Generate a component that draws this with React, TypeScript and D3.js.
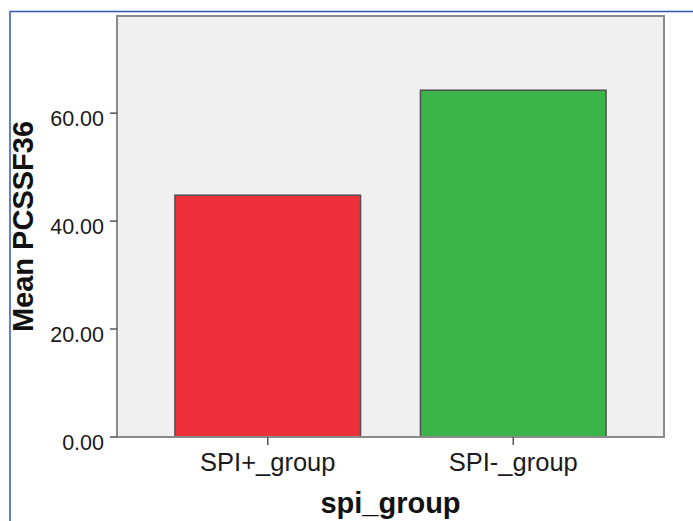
import React from "react";
import * as d3 from "d3";

const categories = ["SPI+_group", "SPI-_group"];
const values = [44.8, 64.25];
const barColors = ["#EE303B", "#3BB54A"];
const yTicks = [0, 20, 40, 60];
const yMax = 78;
const xTitle = "spi_group";
const yTitle = "Mean PCSSF36";

const W = 693;
const H = 521;
const plot = { left: 117, right: 664, top: 16, bottom: 437 };

export default function App() {
  const x = d3
    .scaleBand<string>()
    .domain(categories)
    .range([plot.left, plot.right])
    .paddingInner(0.244)
    .paddingOuter(0.236);
  const y = d3.scaleLinear().domain([0, yMax]).range([plot.bottom, plot.top]);
  const fmt = d3.format(".2f");
  const font = "'Liberation Sans', Arial, Helvetica, sans-serif";

  return (
    <svg
      width={W}
      height={H}
      style={{ position: "absolute", left: 0, top: 0, background: "#ffffff" }}
      fontFamily={font}
    >
      {/* blue frame */}
      <line x1={10} y1={11.5} x2={W} y2={11.5} stroke="#2F57B8" strokeWidth={1.5} />
      <line x1={10} y1={11} x2={10} y2={H} stroke="#2F57B8" strokeWidth={1.5} />

      {/* plot background */}
      <rect
        x={plot.left}
        y={plot.top}
        width={plot.right - plot.left}
        height={plot.bottom - plot.top}
        fill="#F0F0F1"
      />

      {/* bars */}
      {categories.map((c, i) => (
        <rect
          key={c}
          x={x(c)!}
          y={y(values[i])}
          width={x.bandwidth()}
          height={y(0) - y(values[i])}
          fill={barColors[i]}
          stroke="#505050"
          strokeWidth={1.5}
        />
      ))}

      {/* plot frame */}
      <rect
        x={plot.left}
        y={plot.top}
        width={plot.right - plot.left}
        height={plot.bottom - plot.top}
        fill="none"
        stroke="#8A8A8A"
        strokeWidth={2}
      />

      {/* y ticks */}
      {yTicks.map((t) => (
        <g key={t}>
          <line x1={plot.left - 7} x2={plot.left} y1={y(t)} y2={y(t)} stroke="#555" strokeWidth={1.5} />
          <text x={104} y={y(t) + 12.5} textAnchor="end" fontSize={21.5} fill="#1a1a1a">
            {fmt(t)}
          </text>
        </g>
      ))}

      {/* x ticks */}
      {categories.map((c) => {
        const cx = x(c)! + x.bandwidth() / 2;
        return (
          <g key={c}>
            <line x1={cx} x2={cx} y1={plot.bottom} y2={plot.bottom + 8} stroke="#555" strokeWidth={1.5} />
            <text x={cx} y={471} textAnchor="middle" fontSize={25.5} fill="#1a1a1a">
              {c}
            </text>
          </g>
        );
      })}

      {/* axis titles */}
      <text
        x={(plot.left + plot.right) / 2}
        y={513}
        textAnchor="middle"
        fontSize={29}
        fontWeight="bold"
        fill="#111"
      >
        {xTitle}
      </text>
      <text
        transform={`translate(33, ${(plot.top + plot.bottom) / 2}) rotate(-90)`}
        textAnchor="middle"
        fontSize={29}
        fontWeight="bold"
        fill="#111"
      >
        {yTitle}
      </text>
    </svg>
  );
}
